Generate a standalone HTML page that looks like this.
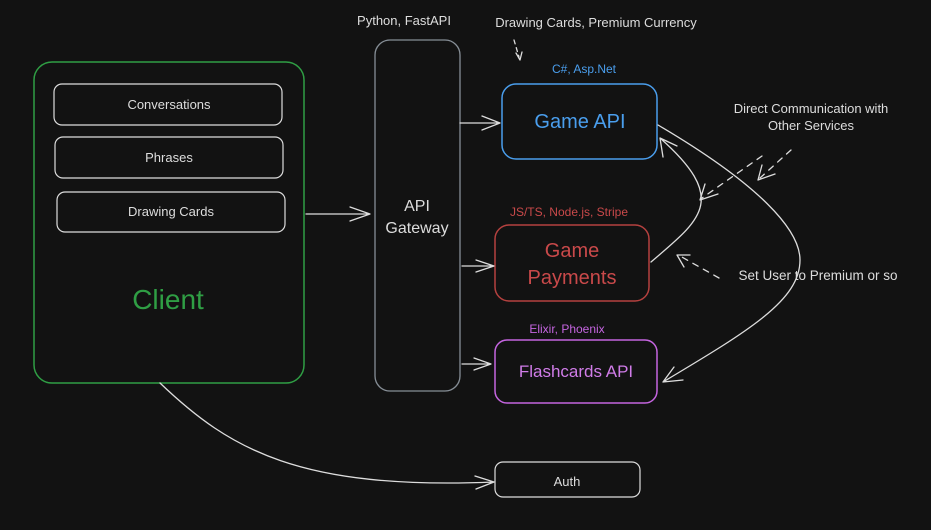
<!DOCTYPE html>
<html><head><meta charset="utf-8"><style>
html,body{margin:0;padding:0;background:#121212;}
svg{display:block}
text{font-family:"Liberation Sans",sans-serif;}
</style></head><body>
<svg width="931" height="530" viewBox="0 0 931 530" xmlns="http://www.w3.org/2000/svg">
<rect width="931" height="530" fill="#121212"/>
<g fill="none" stroke-linecap="round" stroke-linejoin="round">
<rect x="34" y="62" width="270" height="321" rx="18" stroke="#2f9e44" stroke-width="1.5"/>
<rect x="54" y="84" width="228" height="41" rx="8" stroke="#ddd" stroke-width="1.2"/>
<rect x="55" y="137" width="228" height="41" rx="8" stroke="#ddd" stroke-width="1.2"/>
<rect x="57" y="192" width="228" height="40" rx="8" stroke="#ddd" stroke-width="1.2"/>
<rect x="375" y="40" width="85" height="351" rx="15" stroke="#868e96" stroke-width="1.3"/>
<rect x="502" y="84" width="155" height="75" rx="14" stroke="#4a9eed" stroke-width="1.5"/>
<rect x="495" y="225" width="154" height="76" rx="14" stroke="#b5413f" stroke-width="1.5"/>
<rect x="495" y="340" width="162" height="63" rx="12" stroke="#c565e0" stroke-width="1.5"/>
<rect x="495" y="462" width="145" height="35" rx="8" stroke="#ddd" stroke-width="1.2"/>
<g stroke="#ddd" stroke-width="1.3">
<path d="M306 214 L370 214 M350 207 L370 214 L350 221"/>
<path d="M460 123 L500 123 M482 116 L500 123 L482 130"/>
<path d="M462 266 L494 266 M476 260 L494 266 L476 272"/>
<path d="M462 364 L491 364 M474 358 L491 364 L474 370"/>
<path d="M160 383 C230 450, 300 490, 494 482 M475 476 L494 482 L476 489"/>
<path d="M651 262 C700 220, 730 200, 660 138 M677 146 L660 138 L663 157"/>
<path d="M658 125 C760 185, 800 230, 800 260 C800 300, 750 330, 663 382 M683 380 L663 382 L674 367"/>
<path stroke-dasharray="6 6" d="M762 156 L702 198"/>
<path d="M705 184 L700 200 L718 194"/>
<path stroke-dasharray="6 6" d="M791 150 L760 178"/>
<path d="M762 165 L758 180 L775 174"/>
<path stroke-dasharray="6 6" d="M719 278 L680 256"/>
<path d="M690 255 L677 255 L684 267"/>
<path stroke-dasharray="4 4" d="M514 40 L519 57"/>
<path d="M516 53 L520 60 L522 52"/>
</g>
</g>
<g text-anchor="middle">
<text x="169" y="109" font-size="13" fill="#ddd">Conversations</text>
<text x="169" y="162" font-size="13" fill="#ddd">Phrases</text>
<text x="171" y="216" font-size="13" fill="#ddd">Drawing Cards</text>
<text x="168" y="309" font-size="28" fill="#2f9e44">Client</text>
<text x="417" y="211" font-size="16" fill="#ddd">API</text>
<text x="417" y="233" font-size="16" fill="#ddd">Gateway</text>
<text x="580" y="128" font-size="20" fill="#4a9eed">Game API</text>
<text x="572" y="257" font-size="20" fill="#c9494a">Game</text>
<text x="572" y="284" font-size="20" fill="#c9494a">Payments</text>
<text x="576" y="377" font-size="17" fill="#d07ce8">Flashcards API</text>
<text x="567" y="486" font-size="13" fill="#ddd">Auth</text>
<text x="404" y="25" font-size="13" fill="#ddd">Python, FastAPI</text>
<text x="596" y="27" font-size="13" fill="#ddd">Drawing Cards, Premium Currency</text>
<text x="584" y="73" font-size="12" fill="#4a9eed">C#, Asp.Net</text>
<text x="569" y="216" font-size="12" fill="#c9494a">JS/TS, Node.js, Stripe</text>
<text x="567" y="333" font-size="12" fill="#c565e0">Elixir, Phoenix</text>
<text x="811" y="113" font-size="13" fill="#ddd">Direct Communication with</text>
<text x="811" y="130" font-size="13" fill="#ddd">Other Services</text>
<text x="818" y="280" font-size="13.5" fill="#ddd">Set User to Premium or so</text>
</g>
</svg>
</body></html>
